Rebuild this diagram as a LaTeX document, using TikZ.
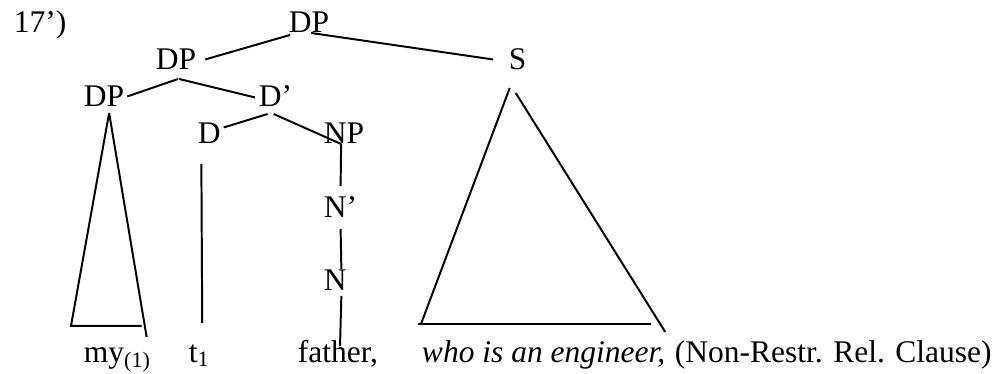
\documentclass[tikz,border=0pt]{standalone}
\usepackage{fontspec}
\setmainfont{Liberation Serif}
\usetikzlibrary{positioning}

\begin{document}
\begin{tikzpicture}[x=0.025cm, y=-0.025cm, line width=1.4pt, every node/.style={font=\fontsize{22.4}{27}\selectfont}]
\tikzset{cat/.style={inner sep=0pt, anchor=base west, text height=15pt, text depth=0pt}}
\tikzset{leaf/.style={cat}}
\useasboundingbox (0,0) rectangle (998,374);
\node[cat] (num) at (13,33) {17’)};
\node[cat] (dptop) at (288,33) {DP};
\node[cat] (dp2) at (155,70) {DP};
\node[cat] (s) at (508,70) {S};
\node[cat] (dp3) at (83,106) {DP};
\node[cat] (dbar) at (258,106) {D’};
\node[cat] (d) at (197,143) {D};
\node[cat] (np) at (323,143) {NP};
\node[cat] (nbar) at (323,217) {N’};
\node[cat] (n) at (323,290) {N};
\node[leaf] (my) at (83,362) {my\textsubscript{(1)}};
\node[leaf] (t1) at (188,362) {t\textsubscript{1}};
\node[leaf] (father) at (297,362) {father,};
\node[leaf] (who) at (421,362) {\textit{who is an engineer,}};
\node[leaf, base right=5.5pt of who] (clause) {(Non-Restr. Rel. Clause)};
\draw ([shift={(2,1)}]dptop.south west) -- ([shift={(8,0)}]dp2.east);
\draw ([shift={(2,-1)}]dptop.south) -- ([shift={(-15,0)}]s.west);
\draw ([shift={(2,8)}]dp2.south) -- ([shift={(2,1)}]dp3.east);
\draw ([shift={(3,8)}]dp2.south) -- ([shift={(-3,2)}]dbar.west);
\draw ([shift={(-8,7)}]dbar.south) -- ([shift={(2,-5)}]d.east);
\draw ([shift={(-2,7)}]dbar.south) -- ([shift={(-3,0)}]np.south);
\draw ([shift={(-3,0)}]np.south) -- ([shift={(0,-9)}]nbar.north);
\draw ([shift={(0,11)}]nbar.south) -- ([shift={(6,1)}]n.north);
\draw ([shift={(6,5)}]n.south) -- ([shift={(2,6)}]father.north);
\draw ([shift={(-8,20)}]d.south) -- ([shift={(3,-17)}]t1.north);
\draw ([shift={(5,6)}]dp3.south) -- ([shift={(-12,-14)}]my.north west) -- ([shift={(-10,-14)}]my.north east);
\draw ([shift={(5,6)}]dp3.south) -- ([shift={(-5,-3)}]my.north east);
\draw ([shift={(-8,17)}]s.south) -- ([shift={(0,-16)}]who.north west);
\draw ([shift={(-3,-16)}]who.north west) -- ([shift={(-15,-16)}]who.north east);
\draw ([shift={(-2,22)}]s.south) -- ([shift={(-1,-8)}]who.north east);
\end{tikzpicture}
\end{document}
